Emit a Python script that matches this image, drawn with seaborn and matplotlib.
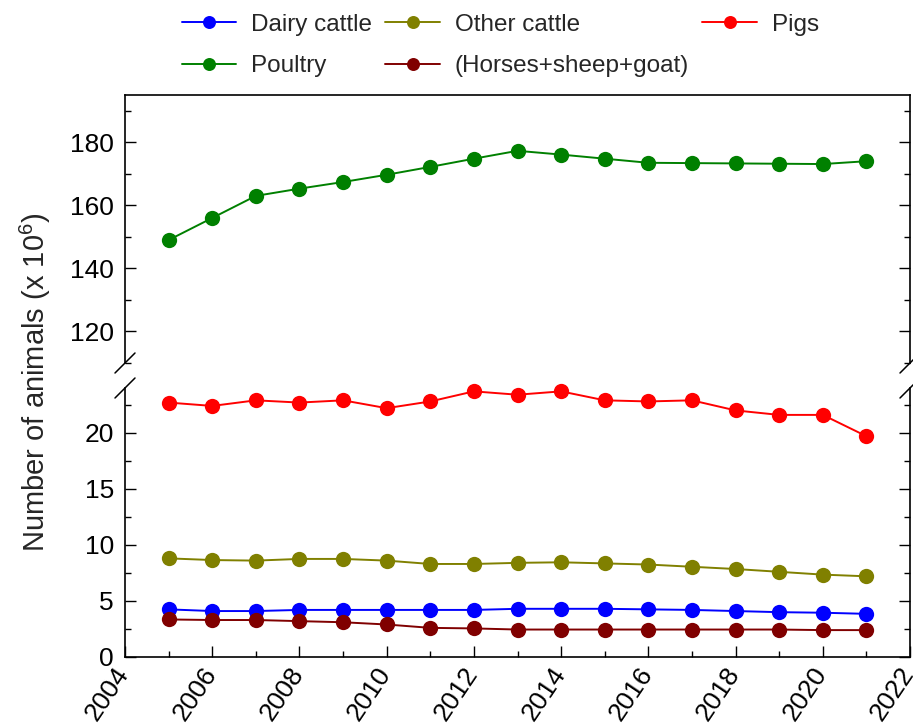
import numpy as np
import pandas as pd
import matplotlib
matplotlib.use("Agg")
import matplotlib.pyplot as plt
from matplotlib.ticker import MultipleLocator
from matplotlib.transforms import ScaledTranslation
import seaborn as sns

years = list(range(2005, 2022))
dairy = [4.25, 4.1, 4.1, 4.2, 4.2, 4.2, 4.2, 4.2, 4.3, 4.3, 4.3, 4.25, 4.2, 4.1, 4.0, 3.95, 3.85]
other = [8.8, 8.65, 8.6, 8.75, 8.75, 8.6, 8.3, 8.3, 8.4, 8.45, 8.35, 8.25, 8.05, 7.85, 7.6, 7.35, 7.2]
pigs = [22.7, 22.4, 22.9, 22.7, 22.9, 22.2, 22.8, 23.7, 23.4, 23.7, 22.9, 22.8, 22.9, 22.0, 21.6, 21.6, 19.7]
poultry = [149.0, 156.0, 163.0, 165.3, 167.4, 169.7, 172.2, 174.8, 177.3, 176.1, 174.8, 173.5, 173.4, 173.3, 173.2, 173.1, 174.0]
horses = [3.35, 3.3, 3.3, 3.2, 3.1, 2.9, 2.6, 2.55, 2.45, 2.45, 2.45, 2.45, 2.45, 2.45, 2.45, 2.4, 2.4]

names = ["Dairy cattle", "Other cattle", "Pigs", "Poultry", "(Horses+sheep+goat)"]
series = [dairy, other, pigs, poultry, horses]
colors = ["#0000FF", "#808000", "#FF0000", "#008000", "#800000"]

df = pd.concat([pd.DataFrame({"Year": years, "Value": v, "Series": n}) for n, v in zip(names, series)])

sns.set_style("white")
plt.rcParams["font.family"] = ["Liberation Sans", "DejaVu Sans"]
plt.rcParams["mathtext.fontset"] = "custom"
plt.rcParams["mathtext.rm"] = "Liberation Sans"

W, H = 913, 725
fig = plt.figure(figsize=(W / 100, H / 100), dpi=100)
L, R = 125 / W, 910 / W
ax_up = fig.add_axes([L, 1 - 363 / H, R - L, (363 - 95) / H])
ax_lo = fig.add_axes([L, 1 - 657 / H, R - L, (657 - 388) / H])

for n, c in zip(names, colors):
    ax = ax_up if n == "Poultry" else ax_lo
    sns.lineplot(data=df[df["Series"] == n], x="Year", y="Value", ax=ax, color=c,
                 marker="o", markersize=11, markeredgewidth=0, linewidth=1.4,
                 label=n, legend=False, clip_on=False, zorder=3)

for ax in (ax_up, ax_lo):
    ax.set_xlim(2004, 2022)
    ax.set_xlabel("")
    ax.set_ylabel("")
    ax.xaxis.set_major_locator(MultipleLocator(2))
    ax.xaxis.set_minor_locator(MultipleLocator(1))
    for s in ax.spines.values():
        s.set_color("black")
        s.set_linewidth(1.2)
    ax.tick_params(axis="both", which="both", direction="in", left=True, right=True,
                   colors="black", labelsize=19, width=1.0)
    ax.tick_params(axis="both", which="major", length=8)
    ax.tick_params(axis="both", which="minor", length=4)
    ax.tick_params(axis="y", which="both", pad=8)

ax_up.set_ylim(110, 195)
ax_up.yaxis.set_major_locator(MultipleLocator(20))
ax_up.yaxis.set_minor_locator(MultipleLocator(10))
ax_up.spines["bottom"].set_visible(False)
ax_up.tick_params(axis="x", which="both", bottom=False, top=False, labelbottom=False)

ax_lo.set_ylim(0, 24)
ax_lo.yaxis.set_major_locator(MultipleLocator(5))
ax_lo.yaxis.set_minor_locator(MultipleLocator(2.5))
ax_lo.spines["top"].set_visible(False)
ax_lo.tick_params(axis="x", which="both", bottom=True, top=False, pad=9)
ax_lo.set_xticks(range(2004, 2023, 2))
ax_lo.set_xticklabels([str(y) for y in range(2004, 2023, 2)], rotation=56,
                      ha="right", va="center", rotation_mode="anchor")
off = ScaledTranslation(-1 / 100, 0, fig.dpi_scale_trans)
for lab in ax_lo.get_xticklabels():
    lab.set_transform(lab.get_transform() + off)

# break marks
d = 10
inv = fig.transFigure.inverted()
for ax, yb in ((ax_up, 0), (ax_lo, 1)):
    for xb in (0, 1):
        p = ax.transAxes.transform((xb, yb))
        a = inv.transform((p[0] - d, p[1] - d))
        b = inv.transform((p[0] + d, p[1] + d))
        fig.add_artist(plt.Line2D([a[0], b[0]], [a[1], b[1]], color="black", lw=1.1))

fig.text(35 / W, 1 - 382 / H, "Number of animals (x 10$^6$)", rotation=90,
         ha="center", va="center", fontsize=21)

hd = {}
for ax in (ax_up, ax_lo):
    h, l = ax.get_legend_handles_labels()
    hd.update(dict(zip(l, h)))
order = ["Dairy cattle", "Poultry", "Other cattle", "(Horses+sheep+goat)", "Pigs"]
fig.legend([hd[o] for o in order], order, loc="upper left", bbox_to_anchor=(172 / W, 1 - 4 / H),
           ncol=3, frameon=False, fontsize=17.5, handlelength=2.25, handletextpad=0.6,
           columnspacing=0.55, labelspacing=0.8, borderaxespad=0.0, markerscale=0.85)

fig.savefig("out.png", dpi=100)
